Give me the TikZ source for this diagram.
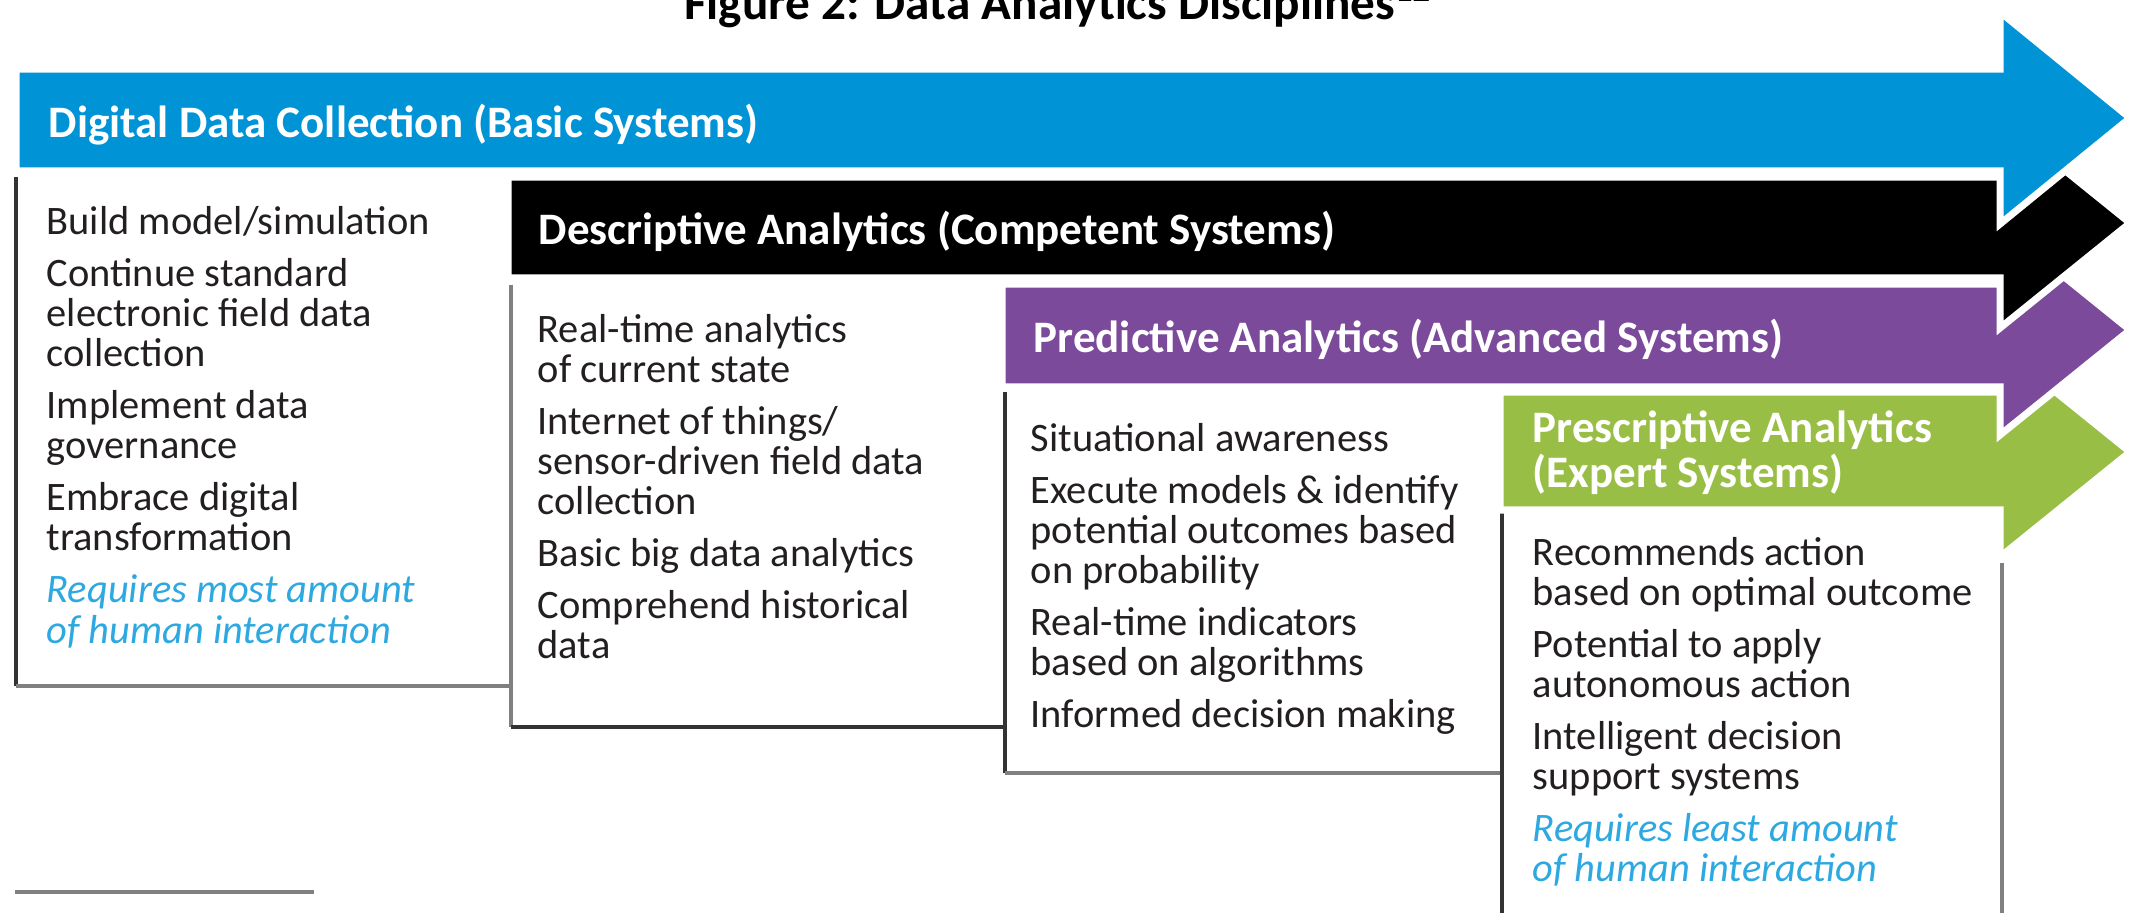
\documentclass[tikz,border=0pt]{standalone}
\usepackage{fontspec}
\setmainfont{Carlito}

\definecolor{collectblue}{HTML}{0093D6}
\definecolor{predictpurple}{HTML}{7C4A9A}
\definecolor{prescribegreen}{HTML}{99BE45}
\definecolor{humanblue}{HTML}{2DA8E0}
\definecolor{bodygrey}{HTML}{231F20}
\definecolor{edgedark}{HTML}{333333}
\definecolor{edgelight}{HTML}{808080}

\newcommand{\bodysize}{\fontsize{11.5pt}{0.40cm}\selectfont}
\newcommand{\bandsize}{\fontsize{12.8pt}{0.45cm}\selectfont}
\newcommand{\itemgap}{\\[0.12cm]}
\newcommand{\human}[1]{\textcolor{humanblue}{\itshape #1}}

\begin{document}
\begin{tikzpicture}
      [
        x = 0.01cm, y = -0.01cm,
        band/.style = {draw=white, line width=2pt, line join=miter},
        bandtext/.style = {anchor=base west, inner sep=0pt, text=white, font=\bandsize\bfseries},
        items/.style = {anchor=north west, inner sep=0pt, align=left, text=bodygrey, font=\bodysize},
        darkedge/.style = {draw=edgedark, line width=1.4pt},
        lightedge/.style = {draw=edgelight, line width=1.4pt},
      ]

      \clip (0,0) rectangle (2131,913);

      \node[anchor=base, inner sep=0pt, font=\fontsize{14pt}{16pt}\selectfont\bfseries] (title) at (1058,20)
        {Figure 2: Data Analytics Disciplines\textsuperscript{12}};

      % open boxes under each band
      \draw[darkedge] (16,177) -- (16,686);
      \draw[lightedge] (16,686) -- (511,686);
      \draw[lightedge] (511,285) -- (511,727);
      \draw[darkedge] (511,727) -- (1005,727);
      \draw[darkedge] (1005,392) -- (1005,773);
      \draw[lightedge] (1005,773) -- (1502,773);
      \draw[darkedge] (1502,512) -- (1502,913);
      \draw[lightedge] (2002,563) -- (2002,913);

      % bands, back to front
      \path[band, fill=prescribegreen] (1500,392) -- (2000,392) -- (2000,347) -- (2130,452)
        -- (2000,557) -- (2000,510) -- (1500,510) -- cycle;
      \path[band, fill=predictpurple] (1002,284) -- (2000,284) -- (2000,225) -- (2130,330)
        -- (2000,435) -- (2000,387) -- (1002,387) -- cycle;
      \path[band, fill=black] (508,177) -- (2000,177) -- (2000,118) -- (2130,223)
        -- (2000,328) -- (2000,278) -- (508,278) -- cycle;
      \path[band, fill=collectblue] (16,69) -- (2000,69) -- (2000,12) -- (2130,118)
        -- (2000,224) -- (2000,171) -- (16,171) -- cycle;

      \node[bandtext] (collect) at (48,138) {Digital Data Collection (Basic Systems)};
      \node[bandtext] (describe) at (538,245) {Descriptive Analytics (Competent Systems)};
      \node[bandtext] (predict) at (1033,353) {Predictive Analytics (Advanced Systems)};
      \node[bandtext, anchor=north west, align=left] (prescribe) at (1532,410)
        {Prescriptive Analytics\\(Expert Systems)};

      \node[items] (collectlist) at (46,206) {
          Build model/simulation\itemgap
          Continue standard\\electronic field data\\collection\itemgap
          Implement data\\governance\itemgap
          Embrace digital\\transformation\itemgap
          \human{Requires most amount}\\\human{of human interaction}
        };
      \node[items] (describelist) at (537,314) {
          Real-time analytics\\of current state\itemgap
          Internet of things/\\sensor-driven field data\\collection\itemgap
          Basic big data analytics\itemgap
          Comprehend historical\\data
        };
      \node[items] (predictlist) at (1030,423) {
          Situational awareness\itemgap
          Execute models \& identify\\potential outcomes based\\on probability\itemgap
          Real-time indicators\\based on algorithms\itemgap
          Informed decision making
        };
      \node[items] (prescribelist) at (1532,537) {
          Recommends action\\based on optimal outcome\itemgap
          Potential to apply\\autonomous action\itemgap
          Intelligent decision\\support systems\itemgap
          \human{Requires least amount}\\\human{of human interaction}
        };

      \draw[lightedge] (15,892) -- (314,892);
    \end{tikzpicture}
\end{document}
